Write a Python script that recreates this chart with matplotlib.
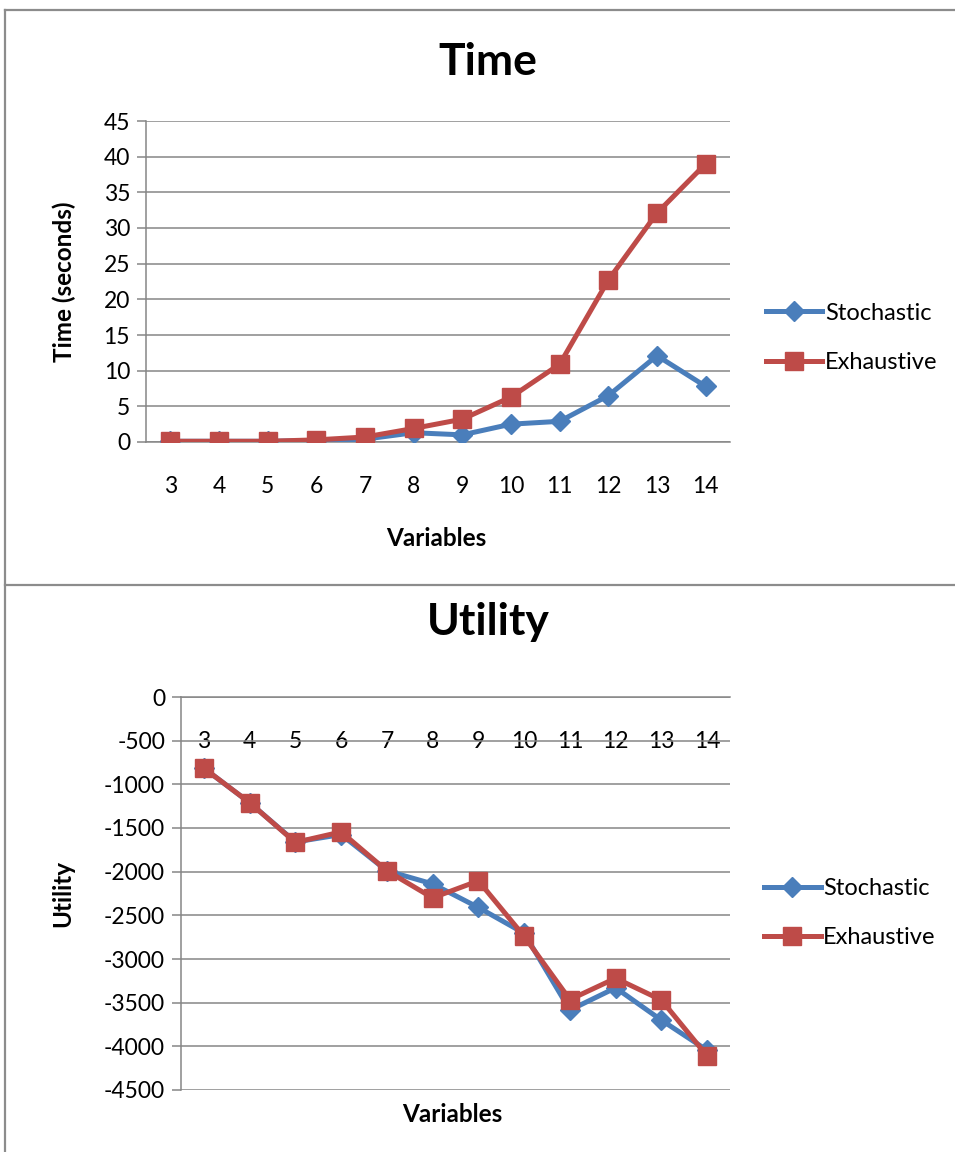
import matplotlib
matplotlib.use("Agg")
import matplotlib.pyplot as plt
from matplotlib.lines import Line2D

plt.rcParams['font.family'] = ['Lato', 'DejaVu Sans']
plt.rcParams['axes.unicode_minus'] = False

variables = [3, 4, 5, 6, 7, 8, 9, 10, 11, 12, 13, 14]
var_labels = [str(v) for v in variables]

# time in seconds
time_stochastic = [0.1, 0.1, 0.1, 0.2, 0.4, 1.3, 1.0, 2.5, 2.9, 6.5, 12.1, 7.8]
time_exhaustive = [0.1, 0.1, 0.1, 0.3, 0.7, 1.9, 3.2, 6.3, 10.9, 22.7, 32.1, 39.0]

# utility
util_stochastic = [-815, -1210, -1660, -1575, -1990, -2140, -2410, -2705, -3585, -3330, -3700, -4045]
util_exhaustive = [-815, -1210, -1665, -1545, -1990, -2300, -2105, -2740, -3465, -3220, -3470, -4110]

blue = '#4A7EBB'
red = '#BE4B48'
grey = '#868686'

fig = plt.figure(figsize=(9.55, 11.52), dpi=100)

# panel borders
W, H = 955.0, 1152.0
def fx(x): return x / W
def fy(y): return 1 - y / H
for xs, ys in [([5, 955], [10, 10]), ([5, 955], [585, 585]), ([5, 5], [10, 1152])]:
    fig.add_artist(Line2D([fx(x) for x in xs], [fy(y) for y in ys],
                          color='#8c8c8c', lw=1.6))


def style(ax, ylim, step):
    ax.set_xlim(2.5, 14.5)
    ax.set_ylim(*ylim)
    ax.set_xticks(variables)
    ax.set_xticklabels(var_labels)
    ax.set_yticks(range(ylim[0], ylim[1] + 1, step))
    ax.grid(axis='y', color=grey, lw=1.1)
    ax.set_axisbelow(True)
    for s in ['top', 'right']:
        ax.spines[s].set_visible(False)
    ax.spines['left'].set_color(grey)
    ax.spines['left'].set_linewidth(1.1)
    ax.spines['bottom'].set_position(('data', 0))
    ax.spines['bottom'].set_color(grey)
    ax.spines['bottom'].set_linewidth(1.1)
    ax.tick_params(axis='y', length=6.5, color=grey, width=1.1, labelsize=16.5, pad=5)
    ax.tick_params(axis='x', length=0, labelsize=16.5, pad=24.5)


def plot_series(ax, s, e):
    ax.plot(variables, s, color=blue, lw=3.6, marker='D', ms=10,
            label='Stochastic', solid_joinstyle='round', zorder=3)
    ax.plot(variables, e, color=red, lw=3.6, marker='s', ms=13,
            label='Exhaustive', solid_joinstyle='round', zorder=4)


def add_legend(ax, ypos):
    ax.legend(loc='center left', bbox_to_anchor=(1.045, ypos), frameon=False,
              fontsize=17, handlelength=2.4, handletextpad=0.1, labelspacing=1.2,
              borderaxespad=0)


# Time chart
ax1 = fig.add_axes([fx(146), fy(442), fx(730) - fx(146), fy(121) - fy(442)])
plot_series(ax1, time_stochastic, time_exhaustive)
style(ax1, (0, 45), 5)
ax1.set_ylabel('Time (seconds)', fontsize=17.5, fontweight='bold')
ax1.yaxis.set_label_coords(-0.12, 0.5)
ax1.set_xlabel('Variables', fontsize=17.5, fontweight='bold')
ax1.xaxis.set_label_coords(0.497, -0.265)
add_legend(ax1, 0.325)
fig.text(fx(488), fy(62), 'Time', ha='center', va='center', fontsize=32, fontweight='bold')

# Utility chart
ax2 = fig.add_axes([fx(181), fy(1090), fx(730) - fx(181), fy(697) - fy(1090)])
plot_series(ax2, util_stochastic, util_exhaustive)
style(ax2, (-4500, 0), 500)
ax2.set_ylabel('Utility', fontsize=17.5, fontweight='bold')
ax2.yaxis.set_label_coords(-0.195, 0.5)
ax2.set_xlabel('Variables', fontsize=17.5, fontweight='bold')
ax2.xaxis.set_label_coords(0.495, -0.034)
add_legend(ax2, 0.45)
fig.text(fx(488), fy(622), 'Utility', ha='center', va='center', fontsize=32, fontweight='bold')

fig.savefig('out.png', dpi=100)
